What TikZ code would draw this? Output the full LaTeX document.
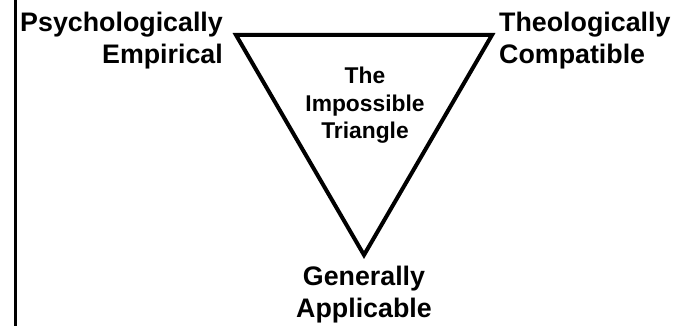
\documentclass[tikz,border=0pt]{standalone}
\usepackage{fontspec}
\setmainfont{Liberation Sans}
\usetikzlibrary{positioning}
\tikzset{
    corner/.style = {font=\bfseries\fontsize{26.8}{32}\selectfont, inner sep=0pt},
    inside/.style = {font=\bfseries\fontsize{22.8}{27.5}\selectfont, inner sep=0pt, align=center},
    edge/.style = {line width=4pt, draw=black},
    border/.style = {line width=2.5pt, draw=black}
}
\begin{document}
\begin{tikzpicture}[x=1pt, y=-1pt]
\useasboundingbox (0,0) rectangle (680,326);

\coordinate (topleft) at (236,35);
\coordinate (topright) at (492,35);
\coordinate (bottom) at (364,255);

\node (empirical) [corner, anchor=north east, align=right] at (223,12) {Psychologically\\Empirical};
\node (compatible) [corner, anchor=north west, align=left] at (499,12) {Theologically\\Compatible};
\node (applicable) [corner, anchor=north, align=center] at (364,266) {Generally\\Applicable};
\node (title) [inside, anchor=north] at (365,67) {The\\Impossible\\Triangle};

\draw [edge] (topleft) -- (topright) -- (bottom) -- cycle;
\draw [border] (15.5,0) -- (15.5,326);
\end{tikzpicture}
\end{document}
